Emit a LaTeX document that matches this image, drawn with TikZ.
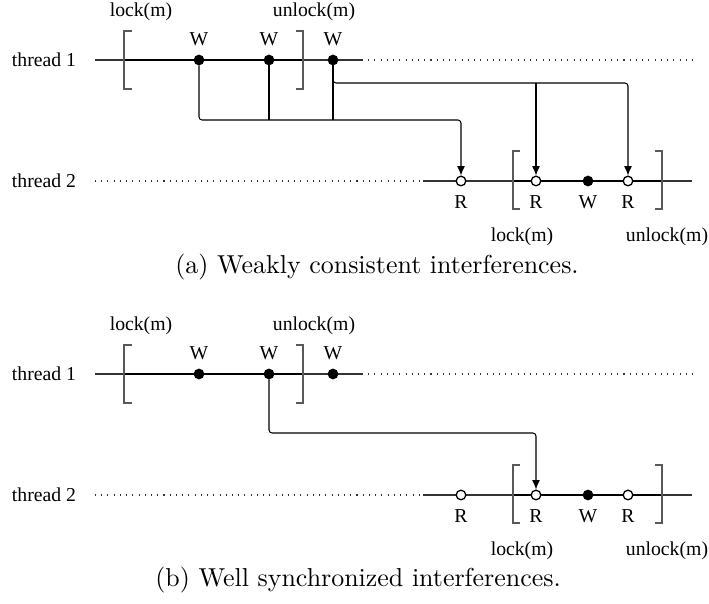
\documentclass[tikz,border=0pt]{standalone}
\usepackage{fontspec}
\newfontfamily\timesfont{Liberation Serif}
\usetikzlibrary{arrows.meta}

\tikzset{
  lbl/.style={font=\timesfont\fontsize{7.6}{9}\selectfont, inner sep=0pt},
  tline/.style={line width=0.4pt, black!80},
  csline/.style={line width=0.8pt, black},
  bracket/.style={line width=0.5pt, black!65},
  wdot/.style={circle, fill=black, draw=black, inner sep=0pt, minimum size=3.7pt},
  rdot/.style={circle, fill=white, draw=black, line width=0.5pt, inner sep=0pt, minimum size=3.7pt},
  conn/.style={line width=0.4pt, rounded corners=1.2pt},
  arr/.style={conn, -{Latex[length=3.6pt,width=3pt]}}
}

\begin{document}
\begin{tikzpicture}[x=0.3855pt, y=-0.3855pt]
\useasboundingbox (0,0) rectangle (709,604);

% (a) weakly consistent
\begin{scope}
\node[lbl] (a-t1) at (44,60) {thread 1};
\node[lbl] (a-t2) at (44,181) {thread 2};
\node[lbl] (a-lock1) at (141,12) {lock(m)};
\node[lbl] (a-unlock1) at (314,12) {unlock(m)};
\node[lbl] (a-lock2) at (522,237) {lock(m)};
\node[lbl] (a-unlock2) at (667,237) {unlock(m)};
\coordinate (a-bus) at (0,120);
\coordinate (a-bus2) at (0,83);
% thread 1
\draw[tline] (95,60) -- (362,60);
\draw[tline, dotted] (362,60) -- (692,60);
\draw[csline] (124,60) -- (303,60);
\draw[bracket] (132,31) -- (124,31) -- (124,89) -- (132,89);
\draw[bracket] (296,31) -- (303,31) -- (303,89) -- (296,89);
\foreach \n/\x in {1/199,2/269,3/333} {
  \node[wdot] (a-w\n) at (\x,60) {};
  \node[lbl] (a-w\n l) at (\x,39) {W};
}
% thread 2
\draw[tline, dotted] (95,181) -- (423,181);
\draw[tline] (423,181) -- (692,181);
\draw[csline] (513,181) -- (662,181);
\draw[bracket] (520,151) -- (513,151) -- (513,209) -- (520,209);
\draw[bracket] (655,151) -- (662,151) -- (662,209) -- (655,209);
\foreach \n/\x in {1/461,2/536,3/628} {
  \node[rdot] (a-r\n) at (\x,181) {};
  \node[lbl] (a-r\n l) at (\x,202) {R};
}
\node[wdot] (a-w4) at (588,181) {};
\node[lbl] (a-w4l) at (588,202) {W};
% interferences
\draw[arr] (a-w1) -- (a-w1 |- a-bus) -| (a-r1);
\draw[conn] (a-w2) -- (a-w2 |- a-bus);
\draw[conn] (a-w3) -- (a-w3 |- a-bus);
\draw[arr] (a-w3) -- (a-w3 |- a-bus2) -| (a-r3);
\draw[arr] (a-r2 |- a-bus2) -- (a-r2);
\node (capa) at (377,267) {(a) Weakly consistent interferences.};
\end{scope}

% (b) well synchronized
\begin{scope}[shift={(0,314)}]
\node[lbl] (b-t1) at (44,60) {thread 1};
\node[lbl] (b-t2) at (44,181) {thread 2};
\node[lbl] (b-lock1) at (141,12) {lock(m)};
\node[lbl] (b-unlock1) at (314,12) {unlock(m)};
\node[lbl] (b-lock2) at (522,237) {lock(m)};
\node[lbl] (b-unlock2) at (667,237) {unlock(m)};
\coordinate (b-bus) at (0,119);
% thread 1
\draw[tline] (95,60) -- (362,60);
\draw[tline, dotted] (362,60) -- (692,60);
\draw[csline] (124,60) -- (303,60);
\draw[bracket] (132,31) -- (124,31) -- (124,89) -- (132,89);
\draw[bracket] (296,31) -- (303,31) -- (303,89) -- (296,89);
\foreach \n/\x in {1/199,2/269,3/333} {
  \node[wdot] (b-w\n) at (\x,60) {};
  \node[lbl] (b-w\n l) at (\x,39) {W};
}
% thread 2
\draw[tline, dotted] (95,181) -- (423,181);
\draw[tline] (423,181) -- (692,181);
\draw[csline] (513,181) -- (662,181);
\draw[bracket] (520,151) -- (513,151) -- (513,209) -- (520,209);
\draw[bracket] (655,151) -- (662,151) -- (662,209) -- (655,209);
\foreach \n/\x in {1/461,2/536,3/628} {
  \node[rdot] (b-r\n) at (\x,181) {};
  \node[lbl] (b-r\n l) at (\x,202) {R};
}
\node[wdot] (b-w4) at (588,181) {};
\node[lbl] (b-w4l) at (588,202) {W};
% interference
\draw[arr] (b-w2) -- (b-w2 |- b-bus) -| (b-r2);
\node (capb) at (358,266) {(b) Well synchronized interferences.};
\end{scope}
\end{tikzpicture}
\end{document}
